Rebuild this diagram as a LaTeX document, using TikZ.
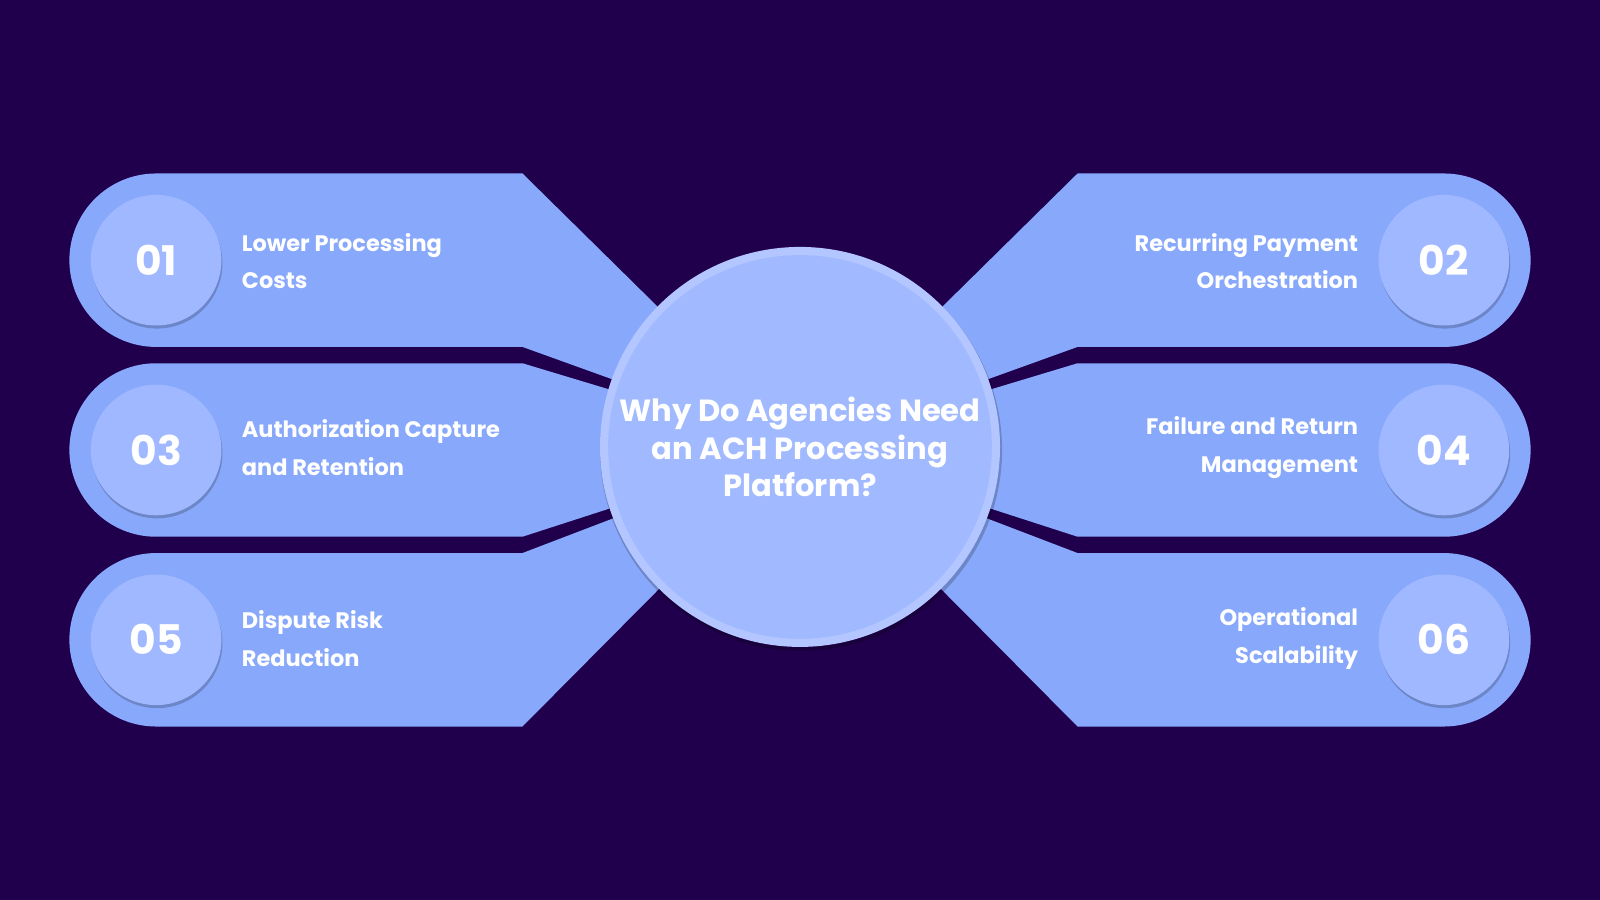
\documentclass[tikz,border=0pt]{standalone}
\usepackage{fontspec}
\setmainfont{Poppins}
\usetikzlibrary{shadows}
\definecolor{bg}{HTML}{20004D}
\definecolor{band}{HTML}{88A8FB}
\definecolor{numc}{HTML}{A0B8FF}
\definecolor{cring}{HTML}{B4C6FF}
\definecolor{cfill}{HTML}{A0B9FF}
\begin{document}
\begin{tikzpicture}[x=0.5pt,y=0.5pt,
  bandshape/.style={fill=band},
  numcirc/.style={circle,fill=numc,minimum size=64pt,inner sep=0pt,text=white,font=\bfseries\fontsize{20}{24}\selectfont,
    drop shadow={shadow xshift=0.5pt,shadow yshift=-1.5pt,fill=black,opacity=0.2}},
  ltext/.style={anchor=west,align=left,text=white,font=\bfseries\fontsize{11}{18.5}\selectfont},
  rtext/.style={anchor=east,align=right,text=white,font=\bfseries\fontsize{11}{18.5}\selectfont}]
\fill[bg] (0,0) rectangle (1568,882);
\useasboundingbox (0,0) rectangle (1568,882);
% left bands
\fill[bandshape] (512,712) -- (153,712) arc[start angle=90,end angle=270,radius=85] -- (512,542) -- (784,444) -- cycle;
\fill[bandshape] (512,526) -- (153,526) arc[start angle=90,end angle=270,radius=85] -- (512,356) -- (784,444) -- cycle;
\fill[bandshape] (512,340) -- (153,340) arc[start angle=90,end angle=270,radius=85] -- (512,170) -- (784,444) -- cycle;
% right bands
\fill[bandshape] (1056,712) -- (1415,712) arc[start angle=90,end angle=-90,radius=85] -- (1056,542) -- (784,444) -- cycle;
\fill[bandshape] (1056,526) -- (1415,526) arc[start angle=90,end angle=-90,radius=85] -- (1056,356) -- (784,444) -- cycle;
\fill[bandshape] (1056,340) -- (1415,340) arc[start angle=90,end angle=-90,radius=85] -- (1056,170) -- (784,444) -- cycle;
% center
\fill[black,opacity=0.2] (785,441) circle[radius=197];
\fill[cring] (784,444) circle[radius=196];
\node[circle,fill=cfill,minimum size=188pt,inner sep=0pt,align=center,text=white,
  font=\bfseries\fontsize{15}{18.5}\selectfont] (center) at (784,444)
  {Why Do Agencies Need\\an ACH Processing\\Platform?};
% number circles
\node[numcirc] (n1) at (153,627) {01};
\node[numcirc] (n3) at (153,441) {03};
\node[numcirc] (n5) at (153,255) {05};
\node[numcirc] (n2) at (1415,627) {02};
\node[numcirc] (n4) at (1415,441) {04};
\node[numcirc] (n6) at (1415,255) {06};
% texts
\node[ltext] (t1) at (230,626) {Lower Processing\\Costs};
\node[ltext] (t3) at (230,443) {Authorization Capture\\and Retention};
\node[ltext] (t5) at (230,256) {Dispute Risk\\Reduction};
\node[rtext] (t2) at (1338,626) {Recurring Payment\\Orchestration};
\node[rtext] (t4) at (1338,443) {Failure and Return\\Management};
\node[rtext] (t6) at (1338,256) {Operational\\Scalability};
\end{tikzpicture}
\end{document}
